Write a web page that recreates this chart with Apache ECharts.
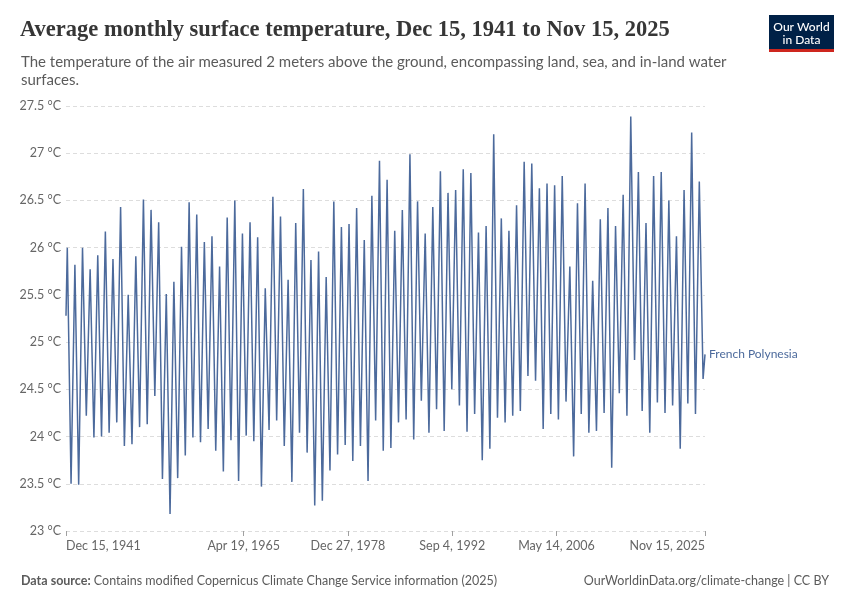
<!DOCTYPE html>
<html><head><meta charset="utf-8">
<script src="https://cdn.jsdelivr.net/npm/echarts@6/dist/echarts.min.js"></script>
<style>html,body{margin:0;padding:0;background:#fff}#c{width:850px;height:600px}</style>
</head><body><div id="c"></div>
<script>
const seriesName = 'French Polynesia';
const firstYear = 1942;
const startPoint = ['1941-12-15', 25.28];
const endPoint = ['2025-11-15', 24.87];
// Yearly warm-season peaks (Feb) and cool-season troughs (Aug), °C, 1942..2025
const peakTemps = [
  26.0, 25.82, 26.0, 25.77, 25.92, 26.17, 25.88, 26.43, 25.5, 25.91,
  26.51, 26.4, 26.27, 25.51, 25.64, 26.01, 26.48, 26.35, 26.06, 26.12,
  25.8, 26.32, 26.5, 26.15, 26.27, 26.11, 25.57, 26.54, 26.33, 25.66,
  26.26, 26.62, 25.87, 25.96, 25.69, 26.49, 26.22, 26.25, 26.42, 26.08,
  26.55, 26.92, 26.72, 26.18, 26.4, 26.99, 26.49, 26.15, 26.43, 26.81,
  26.58, 26.61, 26.83, 26.79, 26.16, 26.23, 27.2, 26.31, 26.18, 26.45,
  26.91, 26.89, 26.63, 26.68, 26.66, 26.76, 25.8, 26.47, 26.68, 25.65,
  26.3, 26.42, 26.23, 26.56, 27.39, 26.8, 26.26, 26.76, 26.8, 26.5,
  26.12, 26.61, 27.22, 26.7
];
const troughTemps = [
  23.5, 23.49, 24.22, 23.99, 24.0, 24.04, 24.15, 23.9, 23.92, 24.1,
  24.13, 24.43, 23.55, 23.18, 23.56, 23.8, 23.99, 23.94, 24.08, 23.85,
  23.63, 23.96, 23.53, 24.01, 23.95, 23.47, 24.07, 24.17, 23.9, 23.52,
  24.04, 23.83, 23.27, 23.32, 23.64, 23.81, 23.91, 23.74, 23.9, 23.53,
  24.17, 23.85, 23.88, 24.15, 24.18, 23.97, 24.38, 24.04, 24.29, 24.06,
  24.5, 24.33, 24.05, 24.24, 23.75, 23.87, 24.2, 24.15, 24.22, 24.27,
  24.64, 24.59, 24.08, 24.24, 24.18, 24.37, 23.79, 24.24, 24.04, 24.06,
  24.25, 23.67, 24.46, 24.22, 24.81, 24.27, 24.04, 24.36, 24.25, 24.33,
  23.87, 24.35, 24.24, 24.61
];
const tickDates = ['1941-12-15', '1965-04-19', '1978-12-27', '1992-09-04', '2006-05-14', '2025-11-15'];
const monthNames = ['Jan','Feb','Mar','Apr','May','Jun','Jul','Aug','Sep','Oct','Nov','Dec'];

function ts(s) { const p = s.split('-').map(Number); return Date.UTC(p[0], p[1] - 1, p[2]); }
function fmtDate(v) { const d = new Date(v); return monthNames[d.getUTCMonth()] + ' ' + d.getUTCDate() + ', ' + d.getUTCFullYear(); }

const data = [[ts(startPoint[0]), startPoint[1]]];
for (let i = 0; i < peakTemps.length; i++) {
  const y = firstYear + i;
  data.push([Date.UTC(y, 1, 15), peakTemps[i]]);
  data.push([Date.UTC(y, 7, 15), troughTemps[i]]);
}
data.push([ts(endPoint[0]), endPoint[1]]);
const tickValues = tickDates.map(ts);

const chart = echarts.init(document.getElementById('c'), null, { renderer: 'canvas' });
chart.setOption({
  animation: false,
  backgroundColor: '#ffffff',
  title: [
    { text: 'Average monthly surface temperature, Dec 15, 1941 to Nov 15, 2025', left: 15, top: 14,
      textStyle: { fontFamily: 'Liberation Serif', fontSize: 22.5, fontWeight: 'bold', color: '#363636' } },
    { text: 'The temperature of the air measured 2 meters above the ground, encompassing land, sea, and in-land water\nsurfaces.',
      left: 16, top: 48,
      textStyle: { fontFamily: 'Lato', fontSize: 15, fontWeight: 'normal', color: '#5b5b5b', lineHeight: 18 } },
    { text: '{b|Data source:} Contains modified Copernicus Climate Change Service information (2025)', left: 16, top: 569,
      textStyle: { fontFamily: 'Lato', fontSize: 12.5, fontWeight: 'normal', color: '#5b5b5b',
        rich: { b: { fontFamily: 'Lato', fontSize: 12.5, fontWeight: 'bold', color: '#5b5b5b' } } } },
    { text: 'OurWorldinData.org/climate-change | CC BY', right: 16, top: 569,
      textStyle: { fontFamily: 'Lato', fontSize: 12.5, fontWeight: 'normal', color: '#5b5b5b' } }
  ],
  graphic: [
    { type: 'rect', shape: { x: 769, y: 15, width: 65, height: 36 }, style: { fill: '#002147' } },
    { type: 'rect', shape: { x: 769, y: 49, width: 65, height: 3 }, style: { fill: '#ce261e' } },
    { type: 'text', x: 801.5, y: 27, style: { text: 'Our World', fill: '#ffffff', font: '500 12px Lato', align: 'center', verticalAlign: 'middle' } },
    { type: 'text', x: 801.5, y: 40, style: { text: 'in Data', fill: '#ffffff', font: '500 12px Lato', align: 'center', verticalAlign: 'middle' } }
  ],
  grid: { left: 66, right: 145, top: 106, bottom: 69, containLabel: false },
  xAxis: {
    type: 'value',
    min: tickValues[0],
    max: tickValues[tickValues.length - 1],
    axisLine: { show: false },
    axisTick: { show: true, customValues: tickValues, length: 5, lineStyle: { color: '#a0a0a0' } },
    splitLine: { show: false },
    axisLabel: {
      customValues: tickValues,
      formatter: (v) => fmtDate(v),
      color: '#666666', fontFamily: 'Lato', fontSize: 12.5, margin: 8,
      alignMinLabel: 'left', alignMaxLabel: 'right',
      showMinLabel: true, showMaxLabel: true
    }
  },
  yAxis: {
    type: 'value', min: 23, max: 27.5, interval: 0.5,
    axisLine: { show: false }, axisTick: { show: false },
    axisLabel: { formatter: (v) => v + ' °C', color: '#666666', fontFamily: 'Lato', fontSize: 12.5, margin: 5 },
    splitLine: { show: true, lineStyle: { color: '#dddddd', type: [4, 3], width: 1 } }
  },
  series: [{
    name: seriesName, type: 'line', data: data, showSymbol: false, symbol: 'none',
    lineStyle: { color: '#4c6a9c', width: 1.5 },
    itemStyle: { color: '#4c6a9c' },
    endLabel: { show: true, formatter: seriesName, color: '#4c6a9c', fontFamily: 'Lato', fontSize: 12, distance: 4 }
  }]
});
</script></body></html>
